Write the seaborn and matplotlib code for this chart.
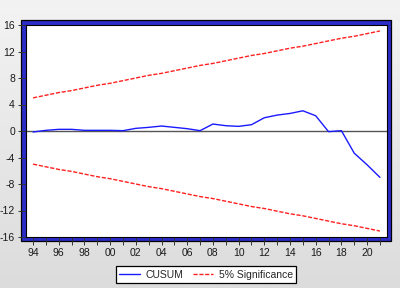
import numpy as np
import pandas as pd
import matplotlib
matplotlib.use("Agg")
import matplotlib.pyplot as plt
from matplotlib.patches import Rectangle
from matplotlib.lines import Line2D
from matplotlib.colors import LinearSegmentedColormap
import seaborn as sns

years = list(range(1994, 2022))
cusum = [-0.15, 0.1, 0.25, 0.25, 0.1, 0.1, 0.1, 0.05, 0.4, 0.55,
         0.75, 0.55, 0.35, 0.05, 1.05, 0.8, 0.7, 0.95, 2.0, 2.4,
         2.65, 3.05, 2.3, -0.1, 0.05, -3.35, -5.1, -7.0]
upper = [5.0, 5.4, 5.8, 6.1, 6.5, 6.9, 7.2, 7.6, 8.0, 8.4,
         8.7, 9.1, 9.5, 9.9, 10.2, 10.6, 11.0, 11.4, 11.7, 12.1,
         12.5, 12.8, 13.2, 13.6, 14.0, 14.3, 14.7, 15.1]
lower = [-v for v in upper]
y_ticks = [16, 12, 8, 4, 0, -4, -8, -12, -16]
legend_labels = ["CUSUM", "5% Significance"]

df = pd.DataFrame({"year": years, "cusum": cusum, "upper": upper, "lower": lower})

sns.set_style("white")
plt.rcParams["font.family"] = ["Liberation Sans", "DejaVu Sans"]

W, H = 400, 288
fig = plt.figure(figsize=(4, 2.88), dpi=100)

# gradient background
bg = fig.add_axes([0, 0, 1, 1], zorder=-10)
grad = np.linspace(0, 1, 256).reshape(-1, 1)
cm = LinearSegmentedColormap.from_list("g", ["#f3f3f3", "#dcdcdc"])
bg.imshow(grad, aspect="auto", cmap=cm, extent=[0, 1, 0, 1], origin="upper")
bg.set_axis_off()

def fx(px):
    return px / W

def fy(py):
    return 1 - py / H

# frame: black outline, blue band
fig.patches.append(Rectangle((fx(21), fy(241)), fx(391) - fx(21), fy(20) - fy(241),
                             transform=fig.transFigure, facecolor="#2c2cc8",
                             edgecolor="#000000", linewidth=0.9, zorder=-5))

ax = fig.add_axes([fx(26), fy(237), fx(387) - fx(26), fy(25) - fy(237)], zorder=1)
ax.set_facecolor("white")

ax.axhline(0, color="#555555", lw=1.0, zorder=1)
sns.lineplot(data=df, x="year", y="cusum", ax=ax, color="#1a1aff", lw=1.0, zorder=3)
sns.lineplot(data=df, x="year", y="upper", ax=ax, color="#ff2020", lw=1.0,
             zorder=2).lines[-1].set_dashes((3, 1.2))
sns.lineplot(data=df, x="year", y="lower", ax=ax, color="#ff2020", lw=1.0,
             zorder=2).lines[-1].set_dashes((3, 1.2))

ax.set_xlim(1993.45, 2021.55)
ax.set_ylim(-16, 16)
ax.set_yticks(y_ticks)
ax.set_yticklabels([str(v) for v in y_ticks])
ax.set_xticks(years)
ax.set_xticklabels([f"{y % 100:02d}" if y % 2 == 0 else "" for y in years])
ax.set_xlabel("")
ax.set_ylabel("")
for s in ax.spines.values():
    s.set_color("black")
    s.set_linewidth(0.8)
ax.tick_params(axis="both", direction="out", length=6, width=0.7, color="#333333",
               labelsize=7.5, labelcolor="#1a1a1a", pad=2,
               bottom=True, left=True)

handles = [Line2D([], [], color="#1a1aff", lw=1.0),
           Line2D([], [], color="#ff2020", lw=1.0, dashes=(3, 1.2))]
leg = fig.legend(handles, legend_labels, loc="center",
                 bbox_to_anchor=(fx(206), fy(274.5)), ncol=2, frameon=True,
                 fancybox=False, edgecolor="black", facecolor="white",
                 fontsize=7.5, handlelength=2.0, columnspacing=0.9,
                 borderpad=0.35, handletextpad=0.5, borderaxespad=0,
                 framealpha=1)
leg.get_frame().set_linewidth(0.9)

fig.savefig("out.png", dpi=100)
